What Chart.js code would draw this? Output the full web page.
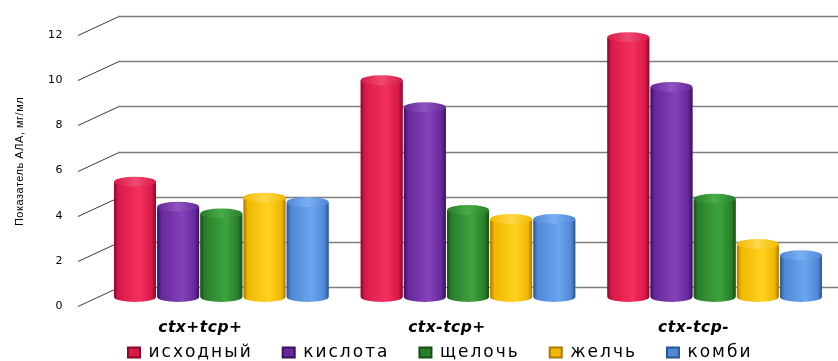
<!DOCTYPE html>
<html>
<head>
<meta charset="utf-8">
<script src="https://cdn.jsdelivr.net/npm/chart.js@4.4.0/dist/chart.umd.min.js"></script>
<style>
  html, body { margin: 0; padding: 0; background: #fff; }
  #wrap { width: 838px; height: 361px; }
</style>
</head>
<body>
<div id="wrap"><canvas id="chart"></canvas></div>
<script>
// данные
const groups = ['ctx+tcp+', 'ctx-tcp+', 'ctx-tcp-'];
const seriesNames = ['исходный', 'кислота', 'щелочь', 'желчь', 'комби'];
const ishodny = [5.1, 9.6, 11.5];
const kislota = [4.0, 8.4, 9.3];
const shcheloch = [3.7, 3.85, 4.35];
const zhelch = [4.4, 3.45, 2.35];
const kombi = [4.2, 3.45, 1.85];
const yMax = 12;
const yStep = 2;

// цвета цилиндров: тень, основной, блик, крышка
const palette = [
    { dark: '#8a0828', main: '#d81a48', light: '#f5305f', cap: '#f04a70' },
    { dark: '#3a0f5e', main: '#66289a', light: '#8542ba', cap: '#8f55c0' },
    { dark: '#144f14', main: '#2a7e2a', light: '#3da43d', cap: '#47ad47' },
    { dark: '#b07600', main: '#f0b800', light: '#ffd21f', cap: '#ffd84a' },
    { dark: '#2a5595', main: '#4f88d6', light: '#6aa6f0', cap: '#7ab0f2' }
];

const seriesValues = [ishodny, kislota, shcheloch, zhelch, kombi];

// задняя стенка с линиями сетки
const wall = {
    id: 'wall',
    beforeDatasetsDraw(chart) {
        const { ctx, chartArea } = chart;
        const sy = chart.scales.y;
        ctx.save();
        sy.ticks.forEach(t => {
            const p = Math.round(sy.getPixelForValue(t.value)) + 0.5;
            ctx.strokeStyle = '#3a3a3a';
            ctx.lineWidth = 1;
            ctx.beginPath();
            ctx.moveTo(chartArea.left - 20, p + 9);
            ctx.lineTo(chartArea.left + 21, p - 10);
            ctx.stroke();
            ctx.strokeStyle = '#7d7d7d';
            ctx.lineWidth = 1.4;
            ctx.beginPath();
            ctx.moveTo(chartArea.left + 20, p - 10);
            ctx.lineTo(chartArea.right, p - 10);
            ctx.stroke();
        });
        ctx.restore();
    }
};

// рисуем столбики как цилиндры
const cylinders = {
    id: 'cylinders',
    afterDatasetsDraw(chart) {
        const ctx = chart.ctx;
        chart.data.datasets.forEach((ds, i) => {
            const meta = chart.getDatasetMeta(i);
            const c = palette[i];
            meta.data.forEach(bar => {
                const { x, y, base, width } = bar.getProps(['x', 'y', 'base', 'width'], true);
                const rx = width / 2;
                const ry = 5;
                const g = ctx.createLinearGradient(x - rx, 0, x + rx, 0);
                g.addColorStop(0, c.dark);
                g.addColorStop(0.1, c.main);
                g.addColorStop(0.6, c.light);
                g.addColorStop(0.9, c.main);
                g.addColorStop(1, c.dark);
                ctx.save();
                ctx.beginPath();
                ctx.moveTo(x - rx, y);
                ctx.lineTo(x - rx, base);
                ctx.ellipse(x, base, rx, ry, 0, Math.PI, 0, true);
                ctx.lineTo(x + rx, y);
                ctx.ellipse(x, y, rx, ry, 0, 0, Math.PI, false);
                ctx.closePath();
                ctx.fillStyle = g;
                ctx.fill();

                const g2 = ctx.createLinearGradient(x - rx, 0, x + rx, 0);
                g2.addColorStop(0, c.main);
                g2.addColorStop(0.5, c.cap);
                g2.addColorStop(1, c.main);
                ctx.beginPath();
                ctx.ellipse(x, y, rx, ry, 0, 0, Math.PI * 2);
                ctx.fillStyle = g2;
                ctx.fill();
                ctx.restore();
            });
        });
        // подписи осей и заголовок рисуются после столбиков, с меньшей разрядкой
        ctx.letterSpacing = '0.5px';
    }
};

// разрядка букв, как у Century Gothic
const spacing = {
    id: 'spacing',
    beforeLayout(chart) { chart.ctx.letterSpacing = '2px'; },
    beforeDraw(chart) { chart.ctx.letterSpacing = '2px'; }
};

const ctx = document.getElementById('chart').getContext('2d');
const chart = new Chart(ctx, {
    type: 'bar',
    data: {
        labels: groups,
        datasets: seriesNames.map((name, i) => ({
            label: name,
            data: seriesValues[i],
            backgroundColor: palette[i].main,
            borderWidth: 0,
            categoryPercentage: 0.875,
            barPercentage: 0.97
        }))
    },
    options: {
        responsive: true,
        maintainAspectRatio: false,
        animation: false,
        devicePixelRatio: 1,
        layout: { padding: { top: 26, right: 0, bottom: 0, left: 0 } },
        plugins: {
            tooltip: { enabled: false },
            legend: {
                position: 'bottom',
                align: 'start',
                fullSize: false,
                maxHeight: 47,
                labels: {
                    boxWidth: 12,
                    boxHeight: 10,
                    padding: 30,
                    color: '#000',
                    font: { family: 'DejaVu Sans', size: 17 },
                    generateLabels(chart) {
                        return chart.data.datasets.map((ds, i) => ({
                            text: ds.label,
                            fillStyle: palette[i].main,
                            strokeStyle: palette[i].dark,
                            lineWidth: 2,
                            datasetIndex: i,
                            hidden: false
                        }));
                    }
                }
            }
        },
        scales: {
            x: {
                grid: { display: false, drawTicks: false },
                border: { display: false },
                ticks: {
                    z: 1,
                    mirror: true,
                    padding: -40,
                    labelOffset: -21,
                    color: '#000',
                    font: { family: 'DejaVu Sans', size: 15.5, weight: 'bold', style: 'italic' }
                },
                afterFit(scale) { scale.height = 17; }
            },
            y: {
                min: 0,
                max: yMax,
                grid: { display: false, drawTicks: false, z: 1 },
                border: { display: false },
                ticks: {
                    z: 1,
                    stepSize: yStep,
                    padding: 35,
                    labelOffset: 9,
                    color: '#000',
                    font: { family: 'DejaVu Sans', size: 11 }
                },
                title: {
                    display: true,
                    text: 'Показатель АЛА, мг/мл',
                    color: '#000',
                    font: { family: 'Liberation Sans', size: 11 },
                    padding: { top: 13, bottom: 0 }
                },
                afterFit(scale) {
                    scale.width = 98;
                    scale.paddingTop = 6;
                    scale.paddingBottom = 6;
                }
            }
        }
    },
    plugins: [spacing, wall, cylinders]
});
</script>
</body>
</html>
